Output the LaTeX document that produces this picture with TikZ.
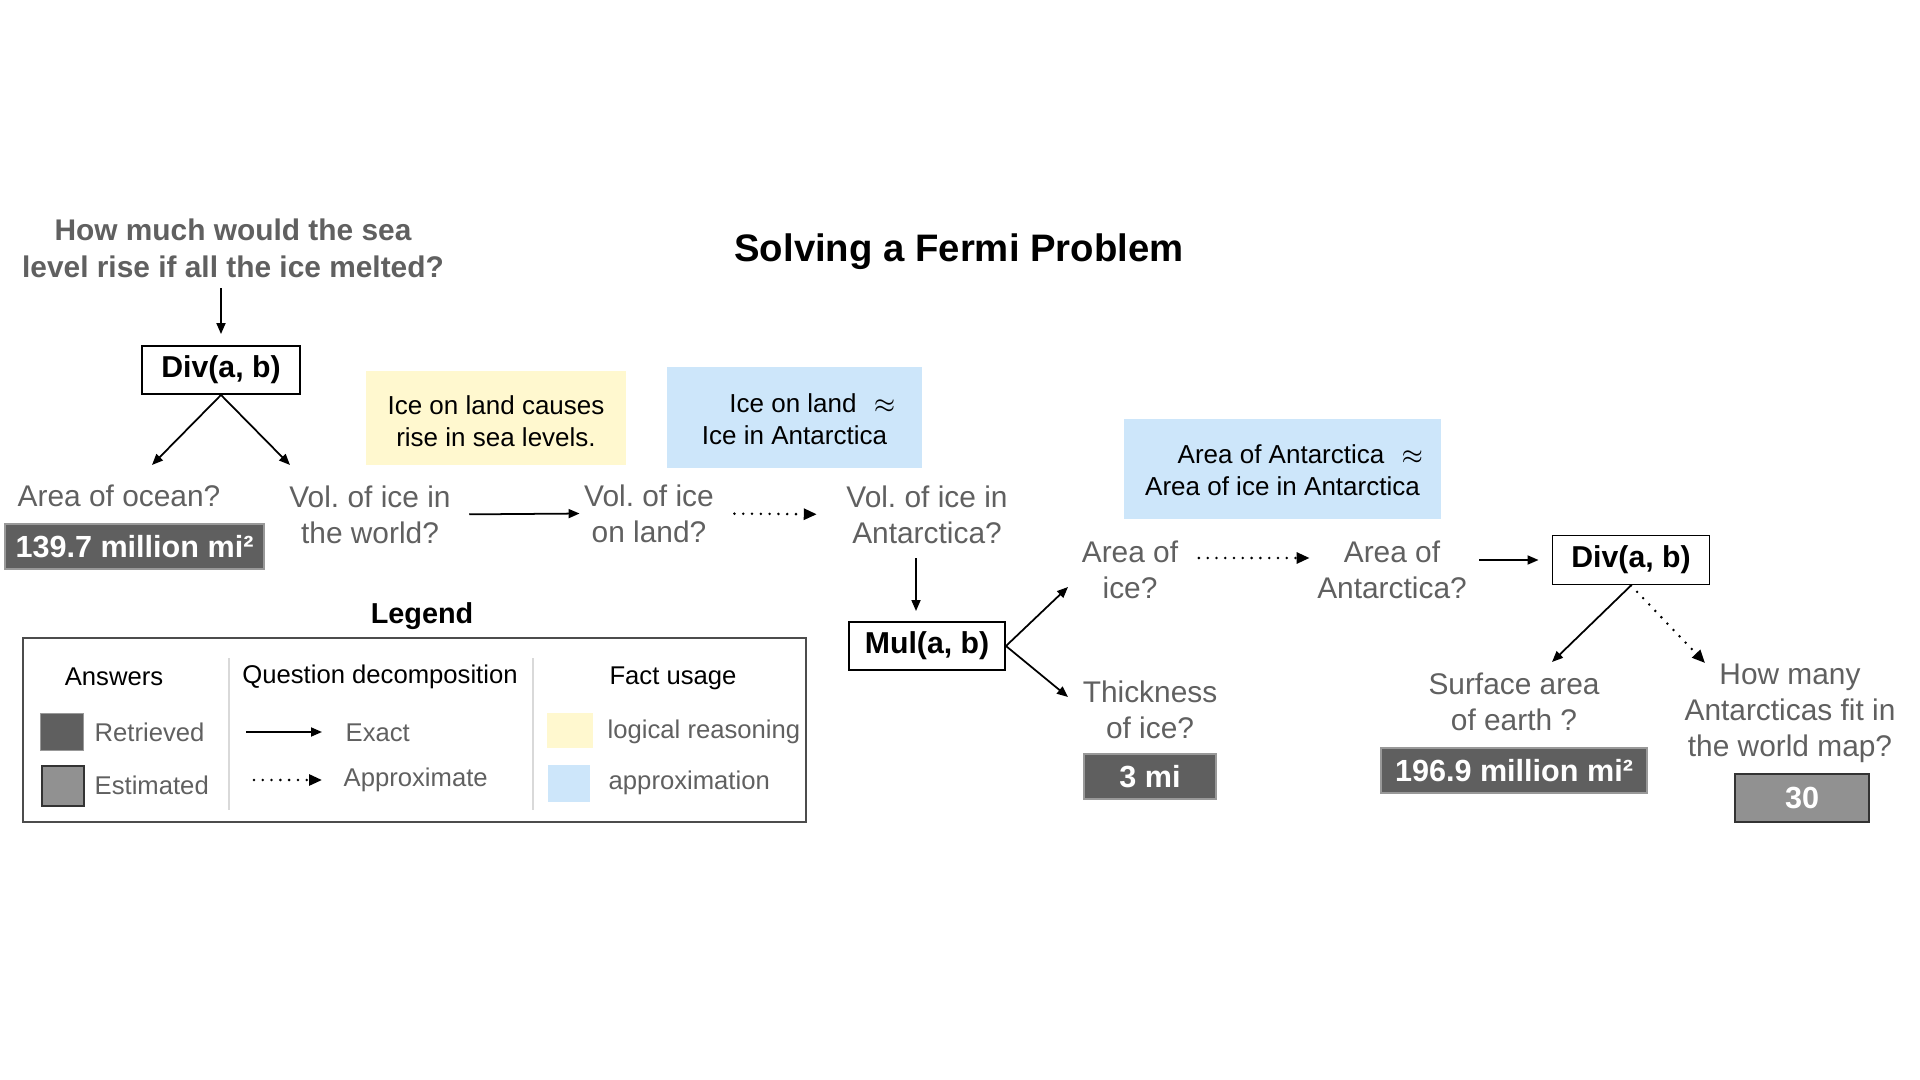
\documentclass[tikz,border=0pt]{standalone}
\usepackage{fontspec}
\setmainfont{Liberation Sans}
\usetikzlibrary{arrows.meta}
\definecolor{qgray}{HTML}{606060}
\definecolor{retrfill}{HTML}{5F5F5F}
\definecolor{estmfill}{HTML}{919191}
\definecolor{logicfill}{HTML}{FFF8CF}
\definecolor{approxfill}{HTML}{CDE6FA}
\tikzstyle{ques}=[text=qgray,align=center,inner sep=0pt,font=\fontsize{8.5}{10.3}\selectfont]
\tikzstyle{opbox}=[draw=black,line width=0.55pt,inner sep=0pt,minimum height=0.48cm,font=\fontsize{8.6}{10}\selectfont\bfseries]
\tikzstyle{retr}=[fill=retrfill,draw=black!40,line width=0.3pt,text=white,inner sep=0pt,font=\fontsize{8.7}{10}\selectfont\bfseries]
\tikzstyle{estm}=[fill=estmfill,draw=black!80,line width=0.5pt,text=white,inner sep=0pt,font=\fontsize{8.7}{10}\selectfont\bfseries]
\tikzstyle{logic}=[fill=logicfill,inner sep=0pt]
\tikzstyle{approx}=[fill=approxfill,inner sep=0pt]
\tikzstyle{facttxt}=[align=center,inner sep=0pt,font=\fontsize{7.4}{9.1}\selectfont]
\tikzstyle{exact}=[-{Triangle[length=1.1mm,width=0.9mm]},line width=0.5pt]
\tikzstyle{apprx}=[-{Triangle[length=1.3mm,width=1.1mm]},line width=0.8pt,dash pattern=on 0pt off 2.5pt,line cap=round]
\tikzstyle{leghead}=[inner sep=0pt,font=\fontsize{7.3}{9}\selectfont]
\tikzstyle{legitem}=[leghead,text=qgray,anchor=west]
\newcommand{\apx}{\hspace{0.17cm}$\approx$}

\begin{document}
\frenchspacing
\begin{tikzpicture}
  \useasboundingbox (0,0) rectangle (19.2,-10.8);

  \node[font=\fontsize{10.9}{13}\selectfont\bfseries] (title) at (9.59,-2.52) {Solving a Fermi Problem};
  \node[ques,font=\fontsize{8.5}{10.5}\selectfont\bfseries] (topq) at (2.33,-2.48) {How much would the sea\\level rise if all the ice melted?};

  % first split
  \node[opbox,minimum width=1.58cm] (div1) at (2.21,-3.70) {Div(a, b)};
  \node[ques] (ocean) at (1.19,-4.96) {Area of ocean?};
  \node[retr,minimum width=2.59cm,minimum height=0.45cm] (ans1) at (1.345,-5.465) {139.7 million mi²};
  \node[ques] (world) at (3.70,-5.145) {Vol. of ice in\\the world?};
  \node[ques] (land) at (6.49,-5.135) {Vol. of ice\\on land?};
  \node[ques] (antv) at (9.27,-5.145) {Vol. of ice in\\Antarctica?};
  \node[logic,minimum width=2.60cm,minimum height=0.94cm] (fact1) at (4.96,-4.18) {};
  \node[approx,minimum width=2.55cm,minimum height=1.01cm] (fact2) at (7.945,-4.175) {};
  \node[facttxt] (txt1) at (4.96,-4.21) {Ice on land causes\\rise in sea levels.};
  \node[facttxt] (txt2) at (7.945,-4.19) {\hspace*{0.36cm}Ice on land\apx\\Ice in Antarctica};

  \coordinate (d1l) at (1.52,-4.65);
  \coordinate (d1r) at (2.90,-4.65);
  \draw[exact,shorten <=1mm,shorten >=1.1mm] (topq.south -| div1.north) -- (div1.north);
  \draw[exact] (div1.south) -- (d1l);
  \draw[exact] (div1.south) -- (d1r);
  \draw[exact,shorten <=1.8mm,shorten >=0.4mm] (world.east) -- (land.west);
  \draw[apprx,shorten <=2mm,shorten >=2.9mm] (land.east) -- (antv.west);

  % product
  \node[opbox,minimum width=1.56cm] (mul) at (9.27,-6.46) {Mul(a, b)};
  \draw[exact,shorten <=1.4mm,shorten >=1mm] ([xshift=-1.1mm]antv.south) -- ([xshift=-1.1mm]mul.north);
  \coordinate (m1u) at (10.68,-5.87);
  \coordinate (m1d) at (10.68,-6.97);
  \draw[exact] (mul.east) -- (m1u);
  \draw[exact] (mul.east) -- (m1d);

  \node[ques] (iceA) at (11.30,-5.70) {Area of\\ice?};
  \node[ques] (thick) at (11.50,-7.10) {Thickness\\of ice?};
  \node[retr,minimum width=1.32cm,minimum height=0.45cm] (ans2) at (11.50,-7.765) {3 mi};
  \node[approx,minimum width=3.17cm,minimum height=1.00cm] (fact3) at (12.825,-4.69) {};
  \node[facttxt] (txt3) at (12.825,-4.70) {\hspace*{0.36cm}Area of Antarctica\apx\\Area of ice in Antarctica};
  \node[ques] (antA) at (13.92,-5.70) {Area of\\Antarctica?};
  \draw[apprx,shorten <=2mm,shorten >=0.7mm] ([yshift=1.2mm]iceA.east) -- ([yshift=1.2mm]antA.west);

  % second split
  \node[opbox,minimum width=1.57cm,minimum height=0.49cm] (div2) at (16.31,-5.60) {Div(a, b)};
  \draw[exact,shorten <=1.2mm,shorten >=1.3mm] (antA.east |- div2.west) -- (div2.west);
  \coordinate (d2l) at (15.52,-6.62);
  \coordinate (d2r) at (17.05,-6.63);
  \draw[exact] (div2.south) -- (d2l);
  \draw[apprx] (div2.south) -- (d2r);

  \node[ques] (earth) at (15.14,-7.015) {Surface area\\of earth ?};
  \node[retr,minimum width=2.66cm,minimum height=0.45cm] (ans3) at (15.14,-7.705) {196.9 million mi²};
  \node[ques] (many) at (17.90,-7.135) {How many\\Antarcticas fit in\\the world map?};
  \node[estm,minimum width=1.34cm,minimum height=0.48cm] (ans4) at (18.02,-7.98) {30};

  % legend
  \node[font=\fontsize{8.2}{10}\selectfont\bfseries] (legtitle) at (4.22,-6.165) {Legend};
  \node[draw=black!70,line width=0.45pt,minimum width=7.83cm,minimum height=1.84cm,inner sep=0pt] (leg) at (4.145,-7.30) {};
  \draw[black!15,line width=0.4pt] (2.29,-6.58) -- (2.29,-8.10);
  \draw[black!15,line width=0.4pt] (5.33,-6.58) -- (5.33,-8.10);
  \node[leghead] (hans) at (1.14,-6.77) {Answers};
  \node[leghead] (hdec) at (3.80,-6.77) {Question decomposition};
  \node[leghead] (hfact) at (6.73,-6.78) {Fact usage};
  \node[retr,minimum width=0.43cm,minimum height=0.37cm] (kretr) at (0.62,-7.32) {};
  \node[estm,minimum width=0.42cm,minimum height=0.40cm] (kestm) at (0.63,-7.86) {};
  \node[logic,minimum width=0.46cm,minimum height=0.35cm] (klogic) at (5.70,-7.305) {};
  \node[approx,minimum width=0.42cm,minimum height=0.37cm] (kapprox) at (5.69,-7.835) {};
  \node[legitem] (lretr) at (0.94,-7.32) {Retrieved};
  \node[legitem] (lestm) at (0.94,-7.85) {Estimated};
  \node[legitem] (lexact) at (3.45,-7.33) {Exact};
  \node[legitem] (lapprx) at (3.43,-7.80) {Approximate};
  \node[legitem] (llogic) at (6.07,-7.32) {logical reasoning};
  \node[legitem] (lapprox) at (6.08,-7.83) {approximation};
  \coordinate (kex) at (2.46,-7.32);
  \coordinate (kap) at (2.54,-7.80);
  \draw[exact,shorten >=2.3mm] (kex) -- (kex -| lexact.west);
  \draw[apprx,shorten >=2.1mm] (kap) -- (kap -| lapprx.west);
\end{tikzpicture}
\end{document}
